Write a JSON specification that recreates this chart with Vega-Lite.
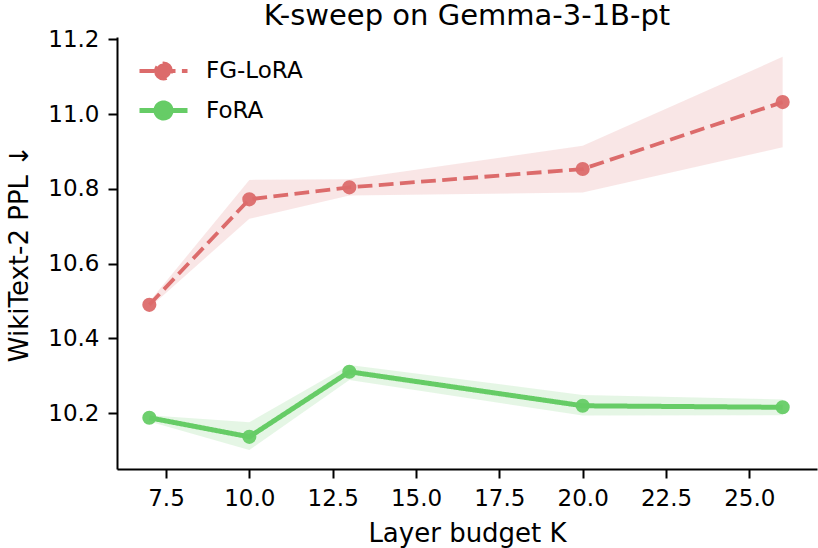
{
  "$schema": "https://vega.github.io/schema/vega-lite/v6.json",
  "autosize": {"type": "none"},
  "width": 700,
  "height": 432,
  "padding": {"left": 117, "top": 37, "right": 1, "bottom": 79},
  "background": "white",
  "config": {
    "view": {"stroke": null}
  },
  "title": {"text": "K-sweep on Gemma-3-1B-pt", "offset": -3, "font": "DejaVu Sans", "fontSize": 29, "fontWeight": "normal", "color": "black"},
  "data": {
    "values": [
      {"series": "FG-LoRA", "K": 7, "ppl": 10.49, "lo": 10.482, "hi": 10.498},
      {"series": "FG-LoRA", "K": 10, "ppl": 10.772, "lo": 10.72, "hi": 10.824},
      {"series": "FG-LoRA", "K": 13, "ppl": 10.804, "lo": 10.782, "hi": 10.826},
      {"series": "FG-LoRA", "K": 20, "ppl": 10.853, "lo": 10.79, "hi": 10.915},
      {"series": "FG-LoRA", "K": 26, "ppl": 11.032, "lo": 10.911, "hi": 11.153},
      {"series": "FoRA", "K": 7, "ppl": 10.188, "lo": 10.178, "hi": 10.195},
      {"series": "FoRA", "K": 10, "ppl": 10.137, "lo": 10.102, "hi": 10.176},
      {"series": "FoRA", "K": 13, "ppl": 10.311, "lo": 10.289, "hi": 10.329},
      {"series": "FoRA", "K": 20, "ppl": 10.22, "lo": 10.194, "hi": 10.249},
      {"series": "FoRA", "K": 26, "ppl": 10.216, "lo": 10.195, "hi": 10.237}
    ]
  },
  "encoding": {
    "x": {
      "field": "K", "type": "quantitative",
      "scale": {"domain": [6.03, 27.03], "nice": false, "zero": false},
      "axis": {"values": [7.5, 10, 12.5, 15, 17.5, 20, 22.5, 25], "format": ".1f", "title": "Layer budget K",
        "grid": false, "domainColor": "black", "domainWidth": 2, "tickColor": "black", "tickWidth": 2, "tickSize": 9,
        "labelFont": "DejaVu Sans", "labelFontSize": 23, "labelColor": "black", "labelPadding": 9,
        "titleFont": "DejaVu Sans", "titleFontSize": 26, "titleFontWeight": "normal", "titleColor": "black", "titlePadding": 10}
    },
    "color": {"field": "series", "type": "nominal",
      "scale": {"domain": ["FG-LoRA", "FoRA"], "range": ["#dc6b6b", "#66cc66"]},
      "legend": {
        "title": null,
        "orient": "none",
        "legendX": 28,
        "legendY": 16,
        "symbolType": "M-1.5,0H1.5M-0.47,0A0.47,0.47 0 1,0 0.47,0A0.47,0.47 0 1,0 -0.47,0",
        "symbolSize": 1024,
        "labelFontSize": 23,
        "labelColor": "black",
        "labelFont": "DejaVu Sans",
        "labelOffset": 24,
        "rowPadding": 5,
        "symbolOpacity": 1,
        "encode": {
          "symbols": {
            "update": {
              "fill": {"scale": "color", "field": "value"},
              "stroke": {"scale": "color", "field": "value"},
              "strokeWidth": {"signal": "datum.value === 'FoRA' ? 5 : 3.8"},
              "strokeDash": {"signal": "datum.value === 'FoRA' ? [1, 0] : [14.8, 6.4]"}
            }
          }
        }
      }
    }
  },
  "layer": [
    {
      "mark": {"type": "area", "opacity": 0.17},
      "encoding": {
        "y": {"field": "lo", "type": "quantitative"},
        "y2": {"field": "hi"}
      }
    },
    {
      "mark": {"type": "line"},
      "encoding": {
        "y": {
          "field": "ppl", "type": "quantitative",
          "scale": {"domain": [10.051, 11.206], "nice": false, "zero": false},
          "axis": {"values": [10.2, 10.4, 10.6, 10.8, 11.0, 11.2], "format": ".1f", "title": "WikiText-2 PPL  ↓",
            "grid": false, "domainColor": "black", "domainWidth": 2, "tickColor": "black", "tickWidth": 2, "tickSize": 9,
            "labelFont": "DejaVu Sans", "labelFontSize": 23, "labelColor": "black", "labelPadding": 9,
            "titleFont": "DejaVu Sans", "titleFontSize": 26, "titleFontWeight": "normal", "titleColor": "black", "titlePadding": 15}
        },
        "strokeDash": {"field": "series", "type": "nominal", "legend": null,
          "scale": {"domain": ["FG-LoRA", "FoRA"], "range": [[14.8, 6.4], [1, 0]]}},
        "strokeWidth": {"field": "series", "type": "nominal", "legend": null,
          "scale": {"domain": ["FG-LoRA", "FoRA"], "range": [3.8, 5]}}
      }
    },
    {
      "mark": {"type": "point", "filled": true, "opacity": 0.95, "size": 200},
      "encoding": {
        "y": {"field": "ppl", "type": "quantitative"}
      }
    }
  ]
}
